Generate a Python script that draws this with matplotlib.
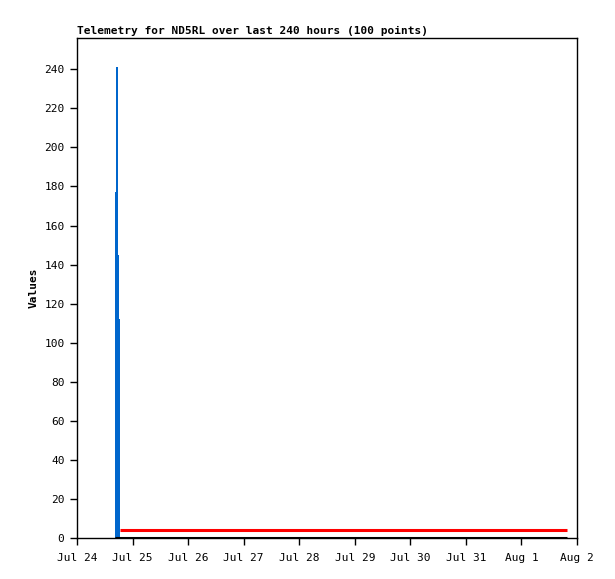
import matplotlib
matplotlib.use("Agg")
import matplotlib.pyplot as plt
import matplotlib.dates as mdates
from matplotlib.ticker import FuncFormatter
import datetime as dt

start = dt.datetime(2023, 7, 24)
# blue series (hours since Jul 24 00:00) - step values
blue_hours = [16.4, 16.9, 17.5, 18.1, 18.6]
blue_values = [177, 241, 145, 112, 112]
# red series
red_hours = [18.6, 211.7]
red_values = [4, 4]
# black series
black_hours = [16.4, 211.7]
black_values = [0, 0]
tick_days = list(range(10))

def to_dt(hs):
    return [start + dt.timedelta(hours=h) for h in hs]

plt.rcParams['font.family'] = ['DejaVu Sans Mono']
fig = plt.figure(figsize=(6.15, 5.79), dpi=100)
ax = fig.add_axes([77/615, 41/579, 500/615, 500/579])

bx = to_dt(blue_hours)
ax.fill_between(bx, blue_values, 0, step='post', color='#0066cc', linewidth=0)
ax.plot(to_dt(black_hours), black_values, color='black', linewidth=2.2, solid_capstyle='butt')
ax.plot(to_dt(red_hours), red_values, color='#ff0000', linewidth=2.2, solid_capstyle='butt')

ax.set_xlim(start, start + dt.timedelta(days=9))
ax.set_ylim(0, 256)
ax.set_xticks([start + dt.timedelta(days=d) for d in tick_days])
ax.xaxis.set_major_formatter(FuncFormatter(lambda v, p: (lambda d: f"{d.strftime('%b')} {d.day}")(mdates.num2date(v))))
ax.set_yticks(range(0, 241, 20))
ax.tick_params(direction='out', length=5, width=1, labelsize=8, pad=4)
ax.tick_params(axis='x', pad=6)
for s in ax.spines.values():
    s.set_linewidth(1)
ax.set_ylabel("Values", fontsize=8, fontweight='bold', labelpad=4)
fig.text(77/615, 1 - 31/579, "Telemetry for ND5RL over last 240 hours (100 points)",
         fontsize=8, fontweight='bold', ha='left', va='center')
fig.savefig("out.png", dpi=100)
